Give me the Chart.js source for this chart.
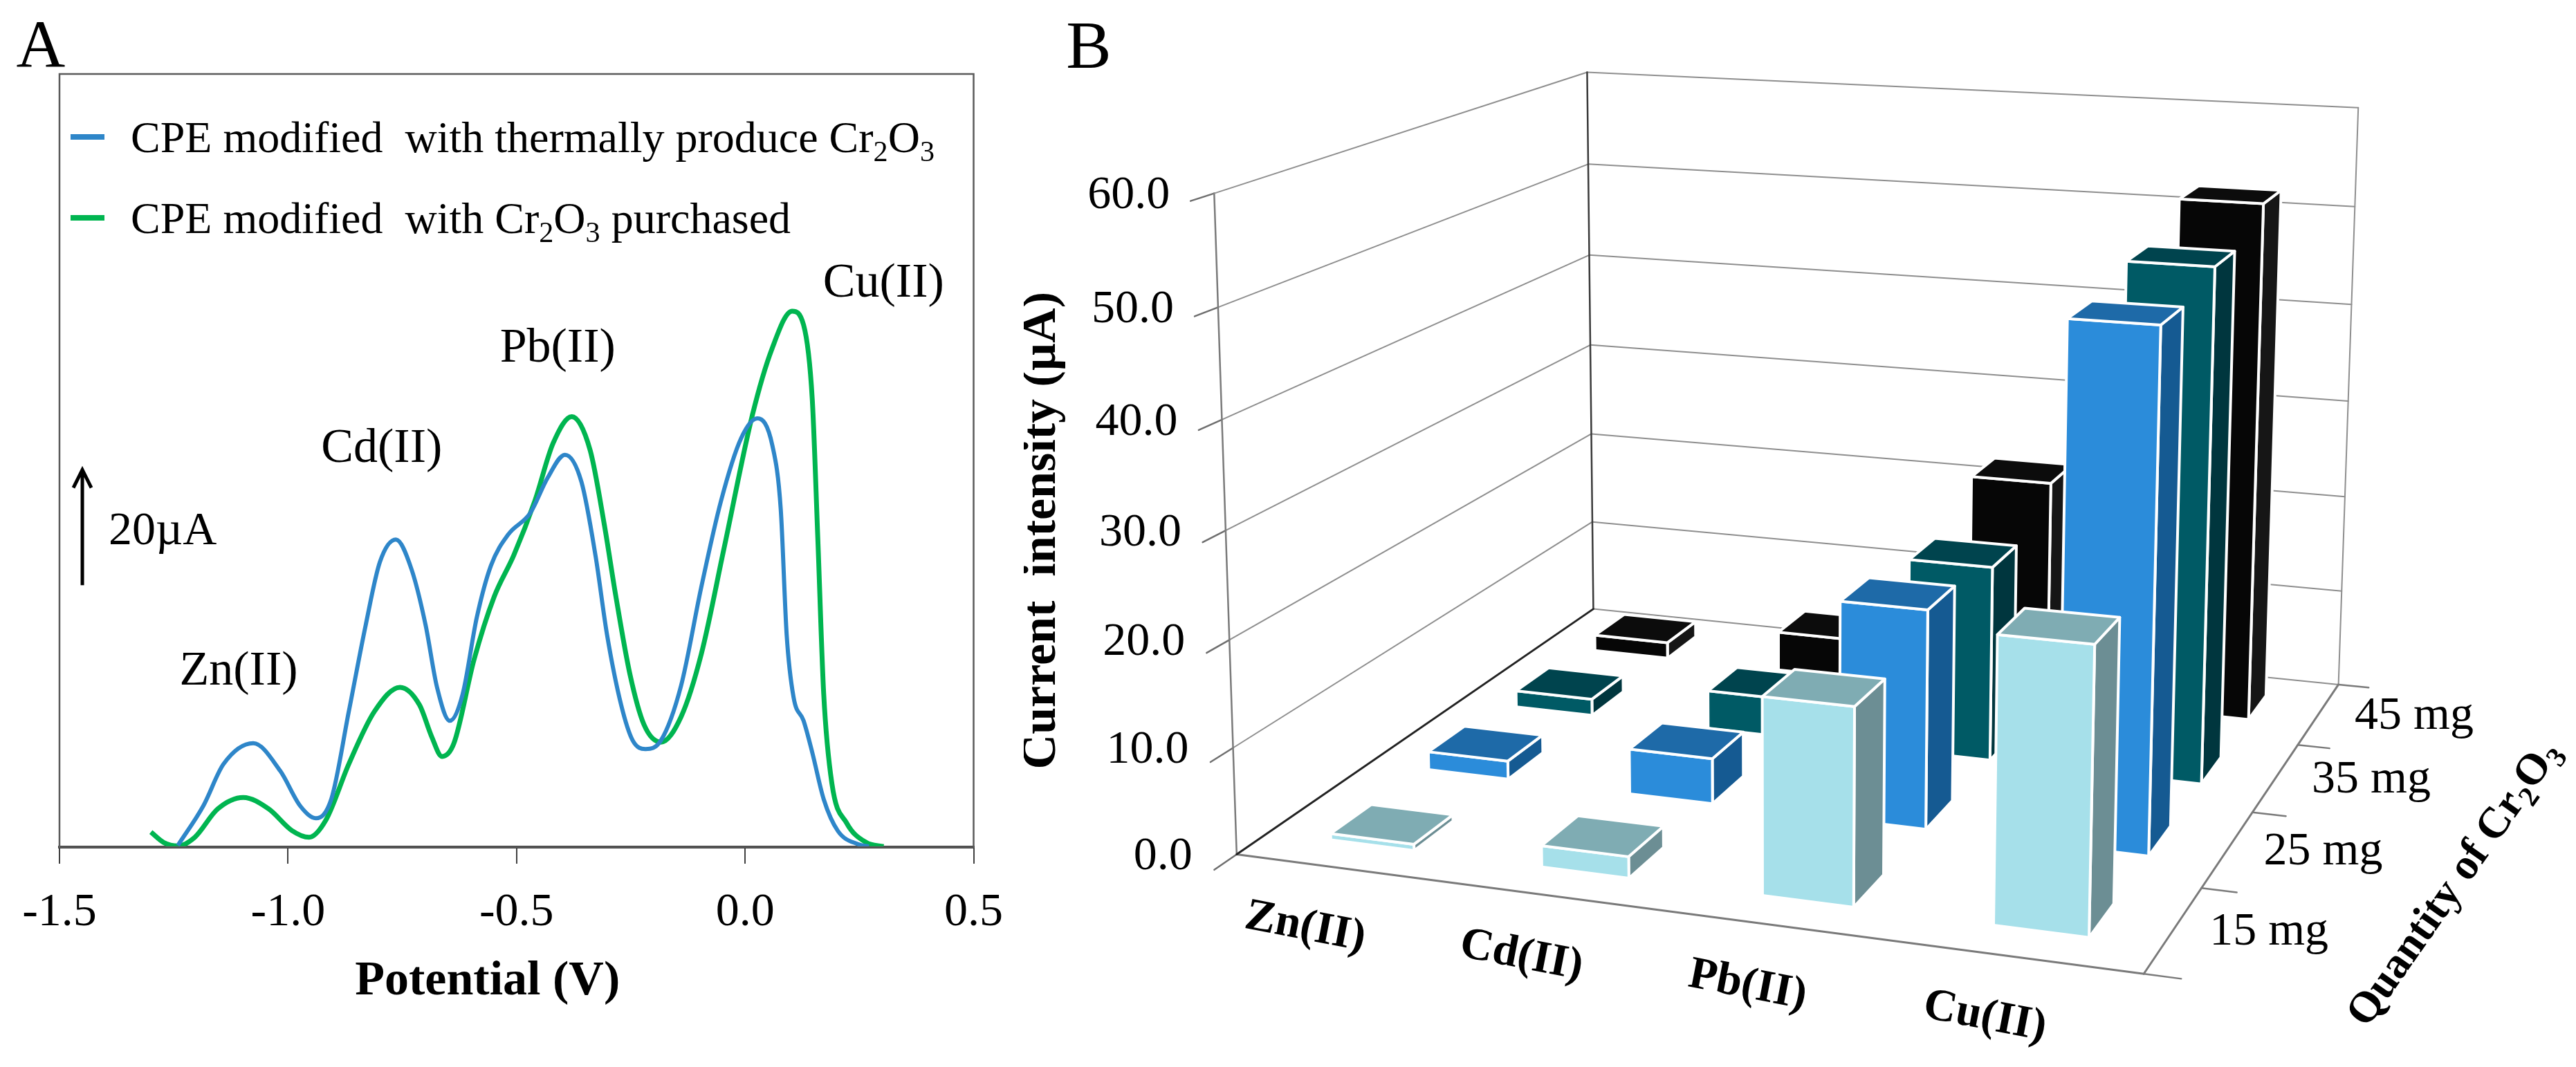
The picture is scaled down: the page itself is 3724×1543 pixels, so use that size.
<!DOCTYPE html>
<html>
<head>
<meta charset="utf-8">
<title>Stripping voltammetry of Zn, Cd, Pb, Cu on Cr2O3 modified CPE</title>
<script src="https://cdn.jsdelivr.net/npm/chart.js@4.4.1/dist/chart.umd.min.js"></script>
<style>
  html, body { margin: 0; padding: 0; background: #fff; }
  #wrap { position: relative; width: 3724px; height: 1543px; }
  .panel { position: absolute; top: 0; height: 1543px; }
</style>
</head>
<body>
<div id="wrap">
  <div class="panel" style="left:0;width:1480px"><canvas id="chartA"></canvas></div>
  <div class="panel" style="left:1480px;width:2244px"><canvas id="chartB"></canvas></div>
</div>
<script>
// ---- Panel A: voltammograms (potential in V, current in uA) ----
const potentialBlue = [-1.241, -1.185, -1.141, -1.076, -1.017, -0.973, -0.939, -0.905, -0.867, -0.830,
  -0.799, -0.764, -0.730, -0.699, -0.674, -0.646, -0.618, -0.587, -0.556, -0.518, -0.470, -0.432,
  -0.394, -0.358, -0.327, -0.302, -0.271, -0.246, -0.218, -0.184, -0.140, -0.096, -0.053, -0.009,
  0.027, 0.060, 0.078, 0.091, 0.106, 0.128, 0.147, 0.172, 0.203, 0.247, 0.271];
const currentBlue = [0.3, 7.2, 14.4, 18.0, 13.2, 7.1, 5.0, 8.4, 23.5, 38.5,
  49.4, 53.3, 48.2, 38.5, 27.7, 21.9, 26.5, 39.8, 48.8, 54.2, 57.9, 64.0,
  68.0, 63.3, 50.4, 36.8, 24.6, 18.5, 17.0, 18.5, 28.0, 45.0, 59.9, 70.8,
  74.3, 69.5, 58.6, 36.8, 26.0, 21.9, 16.4, 8.3, 2.8, 0.5, 0.1];

const potentialGreen = [-1.300, -1.272, -1.241, -1.204, -1.154, -1.098, -1.042, -0.992, -0.954, -0.917,
  -0.867, -0.811, -0.755, -0.712, -0.686, -0.663, -0.637, -0.593, -0.549, -0.506, -0.460, -0.420,
  -0.379, -0.339, -0.308, -0.283, -0.252, -0.221, -0.184, -0.140, -0.096, -0.046, 0.016, 0.059,
  0.103, 0.128, 0.147, 0.159, 0.172, 0.190, 0.222, 0.265, 0.303];
const currentGreen = [2.6, 0.8, 0.2, 1.7, 6.6, 8.6, 6.6, 2.9, 1.7, 4.7,
  14.4, 23.5, 27.7, 24.6, 19.2, 15.7, 18.0, 32.5, 43.4, 50.6, 60.0, 70.0,
  74.6, 68.8, 55.9, 43.6, 30.0, 21.2, 18.2, 22.6, 33.4, 51.8, 74.9, 86.4,
  92.9, 90.5, 77.6, 53.8, 26.6, 11.0, 4.2, 0.8, 0.1];

const potentialTicks = [-1.5, -1.0, -0.5, 0.0, 0.5];
const peakNames = ['Zn(II)', 'Cd(II)', 'Pb(II)', 'Cu(II)'];
const peakLabelX = [-1.108, -0.795, -0.410, 0.303];
const peakLabelY = [30.4, 69.0, 86.3, 97.6];
const scaleBarValue = 20;   // uA, length of the arrow
const scaleBarBase = 45.4;  // uA, where the arrow starts

// ---- Panel B: peak currents (uA) by metal and amount of Cr2O3 ----
const metals = ['Zn(II)', 'Cd(II)', 'Pb(II)', 'Cu(II)'];
const quantities = ['15 mg', '25 mg', '35 mg', '45 mg'];
const current15mg = [0.6, 2.0, 18.0, 25.6];
const current25mg = [1.8, 4.4, 20.8, 48.4];
const current35mg = [1.7, 3.9, 19.3, 49.8];
const current45mg = [1.7, 4.1, 22.6, 52.3];
const currentTicks = [0, 10, 20, 30, 40, 50, 60];

const SERIF = "'Liberation Serif', 'Times New Roman', 'DejaVu Serif', serif";

// text with real subscripts for the unicode subscript digits
function drawRich(ctx, text, x, y, size, weight, align) {
  const subs = { '\u2082': '2', '\u2083': '3' };
  const parts = [];
  for (const ch of text) {
    const sub = ch in subs;
    const t = sub ? subs[ch] : ch;
    const last = parts[parts.length - 1];
    if (last && last.sub === sub) last.t += t; else parts.push({ t, sub });
  }
  const fontOf = p => `${weight || 'normal'} ${p.sub ? size * 0.66 : size}px ${SERIF}`;
  let total = 0;
  parts.forEach(p => { ctx.font = fontOf(p); p.w = ctx.measureText(p.t).width; total += p.w; });
  let cx = align === 'center' ? x - total / 2 : align === 'right' ? x - total : x;
  ctx.textAlign = 'left';
  ctx.textBaseline = 'alphabetic';
  parts.forEach(p => {
    ctx.font = fontOf(p);
    ctx.fillText(p.t, cx, y + (p.sub ? size * 0.2 : 0));
    cx += p.w;
  });
}

// frame, legend and notes of panel A
const panelANotes = {
  id: 'panelANotes',
  afterDraw(chart) {
    const { ctx, chartArea: area, scales: { x, y } } = chart;
    ctx.save();
    ctx.strokeStyle = '#5a5a5a';
    ctx.lineWidth = 2.5;
    ctx.strokeRect(area.left, area.top, area.right - area.left, area.bottom - area.top);

    ctx.fillStyle = '#000';
    ctx.font = `98px ${SERIF}`;
    ctx.textAlign = 'center';
    ctx.textBaseline = 'middle';
    ctx.fillText('A', 59, 70);

    // legend
    chart.data.datasets.forEach((ds, i) => {
      const ly = area.top + 91 + i * 117;
      ctx.strokeStyle = ds.borderColor;
      ctx.lineWidth = 8;
      ctx.beginPath();
      ctx.moveTo(area.left + 16, ly);
      ctx.lineTo(area.left + 65, ly);
      ctx.stroke();
      ctx.fillStyle = '#000';
      drawRich(ctx, ds.label, area.left + 103, ly + 22, 64, 'normal', 'left');
    });

    // peak names
    ctx.fillStyle = '#000';
    ctx.font = `70px ${SERIF}`;
    ctx.textAlign = 'center';
    ctx.textBaseline = 'middle';
    peakNames.forEach((t, i) => ctx.fillText(t, x.getPixelForValue(peakLabelX[i]), y.getPixelForValue(peakLabelY[i])));

    // 20 uA scale arrow
    const ax = x.getPixelForValue(-1.45);
    const y0 = y.getPixelForValue(scaleBarBase);
    const y1 = y.getPixelForValue(scaleBarBase + scaleBarValue);
    ctx.strokeStyle = '#000';
    ctx.lineWidth = 5;
    ctx.beginPath();
    ctx.moveTo(ax, y0);
    ctx.lineTo(ax, y1 + 2);
    ctx.moveTo(ax - 13, y1 + 26);
    ctx.lineTo(ax, y1);
    ctx.lineTo(ax + 13, y1 + 26);
    ctx.stroke();
    ctx.font = `68px ${SERIF}`;
    ctx.textAlign = 'left';
    ctx.fillText(scaleBarValue + '\u00B5A', ax + 38, (y0 + y1) / 2 + 6);

    // axis title
    ctx.font = `bold 70px ${SERIF}`;
    ctx.textAlign = 'center';
    ctx.fillText('Potential (V)', (area.left + area.right) / 2 - 42, 1420);
    ctx.restore();
  }
};

new Chart(document.getElementById('chartA'), {
  type: 'scatter',
  data: {
    datasets: [
      {
        label: 'CPE modified  with thermally produce Cr\u2082O\u2083',
        data: potentialBlue.map((v, i) => ({ x: v, y: currentBlue[i] })),
        borderColor: '#2E86C9',
        borderWidth: 6,
        showLine: true,
        pointRadius: 0,
        cubicInterpolationMode: 'monotone'
      },
      {
        label: 'CPE modified  with Cr\u2082O\u2083 purchased',
        data: potentialGreen.map((v, i) => ({ x: v, y: currentGreen[i] })),
        borderColor: '#00B550',
        borderWidth: 7,
        showLine: true,
        pointRadius: 0,
        cubicInterpolationMode: 'monotone'
      }
    ]
  },
  options: {
    responsive: true,
    maintainAspectRatio: false,
    animation: false,
    layout: { padding: { left: 86, right: 64, top: 107, bottom: 0 } },
    plugins: { legend: { display: false }, tooltip: { enabled: false } },
    scales: {
      x: {
        type: 'linear',
        min: potentialTicks[0],
        max: potentialTicks[potentialTicks.length - 1],
        afterBuildTicks: s => { s.ticks = potentialTicks.map(v => ({ value: v })); },
        afterFit: s => { s.height = 318; },
        ticks: {
          callback: v => Number(v).toFixed(1),
          font: { family: SERIF, size: 68 },
          color: '#000',
          padding: 30,
          maxRotation: 0
        },
        grid: { drawOnChartArea: false, drawTicks: true, tickLength: 24, color: '#404040', lineWidth: 2 },
        border: { display: true, color: '#3a3a3a', width: 4 }
      },
      y: { display: false, min: 0, max: 134 }
    }
  },
  plugins: [panelANotes]
});

// ---- Panel B: 3D columns ----
const B_LEFT = 1480;
// where the corners of the 3D frame sit on the page: [category, depth, height/15, x, y]
const frameAnchors = [
  [0, 0, 0, 1791, 1234], [0, 0, 4, 1752, 281], [4, 0, 0, 3087, 1409],
  [4, 4, 0, 3374, 990], [4, 4, 4, 3409, 157], [0, 4, 0, 2299, 881],
  [0, 4, 4, 2299, 101], [4, 1, 0, 3192, 1283], [4, 2, 0, 3259, 1176],
  [4, 3, 0, 3332, 1076], [0, 4, 2, 2299, 502], [4, 4, 2, 3391, 579]
];

// least-squares perspective camera from the anchors (DLT)
function fitProjection(pts) {
  const cx = 2500, cy = 800, k = 1000;
  const n = 11;
  const M = Array.from({ length: n }, () => new Array(n + 1).fill(0));
  const add = (row, rhs) => {
    for (let i = 0; i < n; i++) {
      for (let j = 0; j < n; j++) M[i][j] += row[i] * row[j];
      M[i][n] += row[i] * rhs;
    }
  };
  pts.forEach(([X, Y, Z, px, py]) => {
    const u = (px - cx) / k, v = (py - cy) / k;
    add([X, Y, Z, 1, 0, 0, 0, 0, -u * X, -u * Y, -u * Z], u);
    add([0, 0, 0, 0, X, Y, Z, 1, -v * X, -v * Y, -v * Z], v);
  });
  for (let c = 0; c < n; c++) {
    let p = c;
    for (let r = c + 1; r < n; r++) if (Math.abs(M[r][c]) > Math.abs(M[p][c])) p = r;
    [M[c], M[p]] = [M[p], M[c]];
    for (let r = 0; r < n; r++) {
      if (r === c) continue;
      const f = M[r][c] / M[c][c];
      for (let q = c; q <= n; q++) M[r][q] -= f * M[c][q];
    }
  }
  const s = M.map((r, i) => r[n] / r[i]);
  return (X, Y, Z) => {
    const w = s[8] * X + s[9] * Y + s[10] * Z + 1;
    return {
      x: (s[0] * X + s[1] * Y + s[2] * Z + s[3]) / w * k + cx,
      y: (s[4] * X + s[5] * Y + s[6] * Z + s[7]) / w * k + cy
    };
  };
}
const project = fitProjection(frameAnchors);

const faceColors = [
  { front: '#A6E0EA', top: '#7FACB3', side: '#6C8E94' },
  { front: '#2B8CDA', top: '#1E6AA8', side: '#155A92' },
  { front: '#005A65', top: '#00444E', side: '#00363E' },
  { front: '#060606', top: '#0C0C0C', side: '#161616' }
];
const BAR_W = 0.4, BAR_D = 0.4, H_UNIT = 15;

const bars3d = {
  id: 'bars3d',
  beforeDatasetsDraw(chart) {
    const { ctx, scales } = chart;
    const P = (u, w, h) => {
      const p = project(u, w, h / H_UNIT);
      return { x: scales.x.getPixelForValue(p.x - B_LEFT), y: scales.y.getPixelForValue(p.y) };
    };
    const seg = (a, b, color, width) => {
      ctx.strokeStyle = color;
      ctx.lineWidth = width;
      ctx.beginPath();
      ctx.moveTo(a.x, a.y);
      ctx.lineTo(b.x, b.y);
      ctx.stroke();
    };
    const nCat = metals.length, nSer = quantities.length, top = currentTicks[currentTicks.length - 1];
    ctx.save();
    ctx.lineCap = 'round';
    // gridlines on both walls
    currentTicks.forEach(h => {
      if (h > 0 && h < top) {
        seg(P(0, 0, h), P(0, nSer, h), '#8e8e8e', 2);
        seg(P(0, nSer, h), P(nCat, nSer, h), '#8e8e8e', 2);
      }
      seg(P(0, 0, h), P(0, -0.2, h), '#6e6e6e', 2.5);
    });
    // frame
    seg(P(0, 0, 0), P(0, 0, top), '#7a7a7a', 2.5);
    seg(P(0, 0, top), P(0, nSer, top), '#8e8e8e', 2);
    seg(P(0, nSer, top), P(nCat, nSer, top), '#8e8e8e', 2);
    seg(P(nCat, nSer, top), P(nCat, nSer, 0), '#8e8e8e', 2);
    seg(P(0, nSer, 0), P(0, nSer, top), '#3a3a3a', 2.5);
    seg(P(0, nSer, 0), P(nCat, nSer, 0), '#8e8e8e', 2);
    seg(P(0, 0, 0), P(nCat, 0, 0), '#7a7a7a', 3);
    seg(P(0, 0, 0), P(0, nSer, 0), '#222', 3);
    seg(P(nCat, 0, 0), P(nCat, nSer, 0), '#7a7a7a', 3);
    for (let j = 0; j <= nSer; j++) seg(P(nCat, j, 0), P(nCat + 0.15, j, 0), '#7a7a7a', 2.5);

    // columns, back row first
    const poly = (pts, fill) => {
      ctx.beginPath();
      pts.forEach((p, i) => (i ? ctx.lineTo(p.x, p.y) : ctx.moveTo(p.x, p.y)));
      ctx.closePath();
      ctx.fillStyle = fill;
      ctx.fill();
      ctx.stroke();
    };
    ctx.strokeStyle = '#fff';
    ctx.lineWidth = 4;
    ctx.lineJoin = 'round';
    for (let j = chart.data.datasets.length - 1; j >= 0; j--) {
      const ds = chart.data.datasets[j];
      const c = faceColors[j];
      ds.data.forEach(pt => {
        const u0 = pt.x + 0.5 - BAR_W / 2, u1 = pt.x + 0.5 + BAR_W / 2;
        const w0 = j + 0.5 - BAR_D / 2, w1 = j + 0.5 + BAR_D / 2;
        const h = pt.y;
        poly([P(u1, w0, 0), P(u1, w1, 0), P(u1, w1, h), P(u1, w0, h)], c.side);
        poly([P(u0, w0, 0), P(u1, w0, 0), P(u1, w0, h), P(u0, w0, h)], c.front);
        poly([P(u0, w0, h), P(u1, w0, h), P(u1, w1, h), P(u0, w1, h)], c.top);
      });
    }
    ctx.restore();
  },
  afterDatasetsDraw(chart) {
    const { ctx, scales } = chart;
    const P = (u, w, h) => {
      const p = project(u, w, h / H_UNIT);
      return { x: scales.x.getPixelForValue(p.x - B_LEFT), y: scales.y.getPixelForValue(p.y) };
    };
    ctx.save();
    ctx.fillStyle = '#000';
    ctx.textBaseline = 'middle';

    ctx.font = `98px ${SERIF}`;
    ctx.textAlign = 'center';
    ctx.fillText('B', scales.x.getPixelForValue(1574 - B_LEFT), scales.y.getPixelForValue(72));

    // value axis labels
    ctx.font = `68px ${SERIF}`;
    ctx.textAlign = 'right';
    currentTicks.forEach(h => {
      const p = P(0, 0, h);
      ctx.fillText(h.toFixed(1), p.x - 64, p.y + 4);
    });

    // category labels along the front edge
    const a = P(0, 0, 0), b = P(metals.length, 0, 0);
    const ang = Math.atan2(b.y - a.y, b.x - a.x) + 0.06;
    ctx.font = `bold 66px ${SERIF}`;
    ctx.textAlign = 'center';
    metals.forEach((m, i) => {
      const p = P(i + 0.5, 0, 0);
      ctx.save();
      ctx.translate(p.x - 52, p.y + 86);
      ctx.rotate(ang);
      ctx.fillText(m, 0, 0);
      ctx.restore();
    });

    // depth labels
    ctx.font = `68px ${SERIF}`;
    ctx.textAlign = 'left';
    quantities.forEach((q, j) => {
      const p = P(metals.length, j + 0.5, 0);
      ctx.fillText(q, p.x + 52, p.y + 4);
    });

    // axis titles
    const mid = P(0, 0, 30);
    ctx.save();
    ctx.translate(mid.x - 265, mid.y);
    ctx.rotate(-Math.PI / 2);
    ctx.font = `bold 70px ${SERIF}`;
    ctx.textAlign = 'center';
    ctx.fillText('Current  intensity (\u00B5A)', 0, 0);
    ctx.restore();

    const dm = P(metals.length, quantities.length / 2, 0);
    ctx.save();
    ctx.translate(dm.x + 288, dm.y + 100);
    ctx.rotate(-55 * Math.PI / 180);
    drawRich(ctx, 'Quantity of Cr\u2082O\u2083', 0, 22, 63, 'bold', 'center');
    ctx.restore();
    ctx.restore();
  }
};

const seriesValues = [current15mg, current25mg, current35mg, current45mg];

new Chart(document.getElementById('chartB'), {
  type: 'scatter',
  data: {
    datasets: quantities.map((q, j) => ({
      label: q,
      data: metals.map((m, i) => ({ x: i, y: seriesValues[j][i] })),
      pointRadius: 0,
      backgroundColor: faceColors[j].front
    }))
  },
  options: {
    responsive: true,
    maintainAspectRatio: false,
    animation: false,
    layout: { padding: 0 },
    plugins: { legend: { display: false }, tooltip: { enabled: false } },
    scales: {
      x: { type: 'linear', display: false, min: 0, max: 2244 },
      y: { type: 'linear', display: false, min: 0, max: 1543, reverse: true }
    }
  },
  plugins: [bars3d]
});
</script>
</body>
</html>
